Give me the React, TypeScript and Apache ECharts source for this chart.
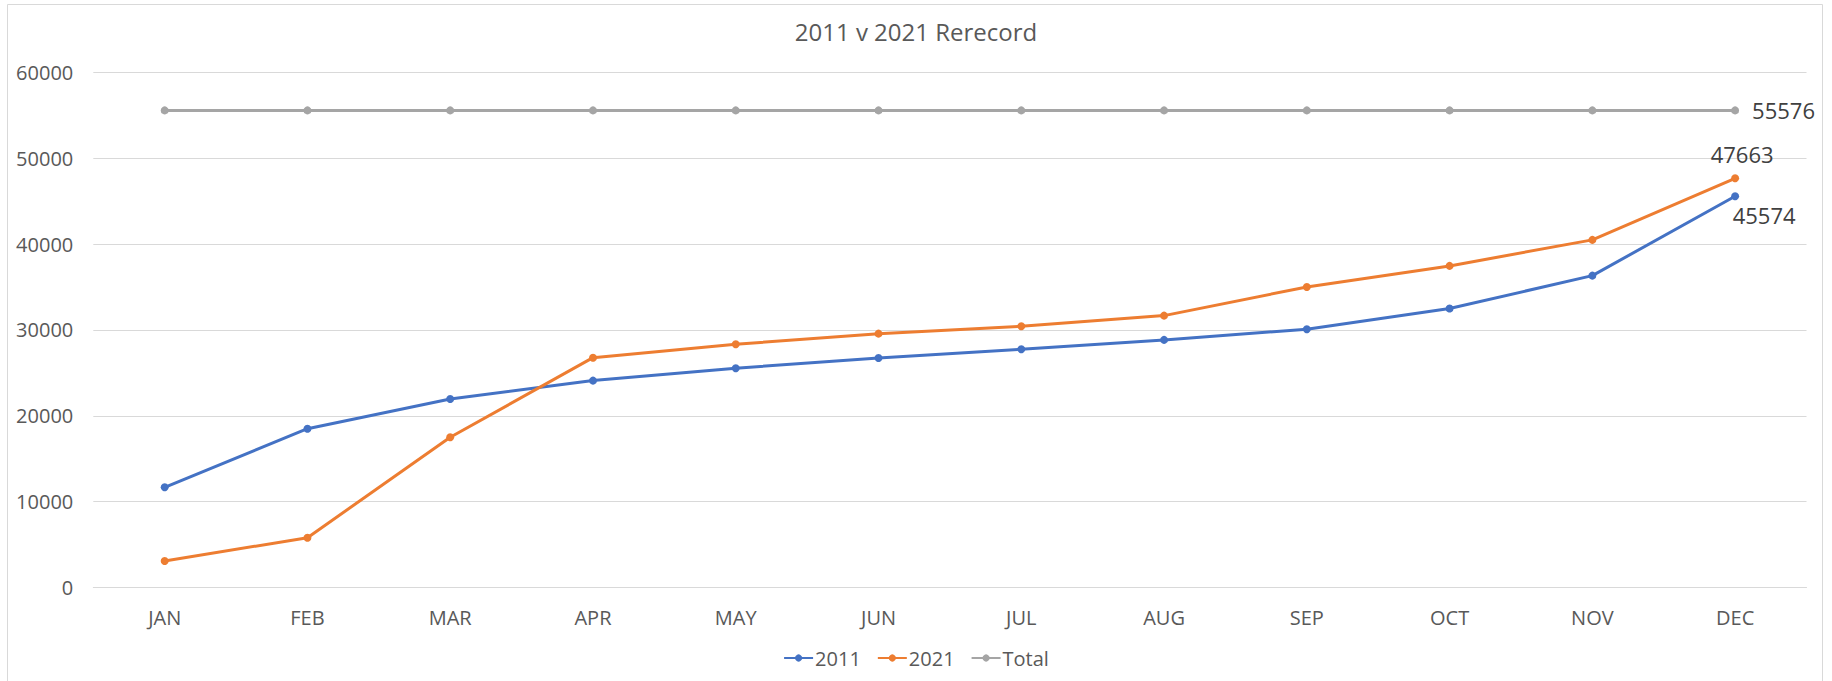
import React, { useEffect, useRef } from "react";
import * as echarts from "echarts";

const categories = ["JAN", "FEB", "MAR", "APR", "MAY", "JUN", "JUL", "AUG", "SEP", "OCT", "NOV", "DEC"];
const values2011 = [11670, 18500, 21960, 24100, 25540, 26740, 27750, 28840, 30080, 32490, 36330, 45574];
const values2021 = [3090, 5800, 17500, 26770, 28330, 29570, 30430, 31670, 35010, 37460, 40490, 47663];
const valuesTotal = [55576, 55576, 55576, 55576, 55576, 55576, 55576, 55576, 55576, 55576, 55576, 55576];
const yTicks = { min: 0, max: 60000, interval: 10000 };

const FONT = "'Open Sans', 'Noto Sans', sans-serif";
const TEXT = "#595959";

function withEndLabel(values: number[], label: any) {
  return values.map((v, i) => (i === values.length - 1 ? { value: v, label } : v));
}

export default function App() {
  const ref = useRef<HTMLDivElement>(null);
  useEffect(() => {
    document.body.style.margin = "0";
    const chart = echarts.init(ref.current!, null, { renderer: "svg" });
    const lineSeries = (name: string, color: string, data: any[]) => ({
      name,
      type: "line",
      data,
      symbol: "circle",
      symbolSize: 8,
      lineStyle: { width: 3, color },
      itemStyle: { color },
      label: { show: false },
      z: 3,
    });
    const labelStyle = { show: true, fontFamily: FONT, fontSize: 22, color: "#404040" };
    chart.setOption({
      animation: false,
      backgroundColor: "#ffffff",
      textStyle: { fontFamily: FONT },
      title: {
        text: "2011 v 2021 Rerecord",
        left: "center",
        top: 19,
        padding: 0,
        textStyle: { fontFamily: FONT, fontSize: 24, fontWeight: "normal", color: TEXT },
      },
      graphic: [
        {
          type: "rect",
          shape: { x: 7.5, y: 4.5, width: 1815, height: 700 },
          style: { fill: "none", stroke: "#D9D9D9", lineWidth: 1 },
          silent: true,
          z: -1,
        },
      ],
      legend: {
        data: ["2011", "2021", "Total"],
        left: "center",
        top: 643,
        itemWidth: 29,
        itemHeight: 9,
        itemGap: 16,
        textStyle: { fontFamily: FONT, fontSize: 20, color: TEXT, padding: [0, 0, 0, -3] },
      },
      grid: { left: 93.3, right: 25.5, top: 72.4, bottom: 93.5 },
      xAxis: {
        type: "category",
        data: categories,
        boundaryGap: true,
        axisLine: { show: true, lineStyle: { color: "#D9D9D9", width: 1 } },
        axisTick: { show: false },
        axisLabel: { fontFamily: FONT, fontSize: 20, color: TEXT, margin: 20 },
      },
      yAxis: {
        type: "value",
        min: yTicks.min,
        max: yTicks.max,
        interval: yTicks.interval,
        axisLine: { show: false },
        axisTick: { show: false },
        axisLabel: {
          fontFamily: FONT,
          fontSize: 20,
          color: TEXT,
          margin: 20,
          formatter: (v: number) => String(v),
        },
        splitLine: { lineStyle: { color: "#D9D9D9", width: 1 } },
      },
      series: [
        lineSeries(
          "2011",
          "#4472C4",
          withEndLabel(values2011, { ...labelStyle, position: "bottom", distance: 4, offset: [29, 0] })
        ),
        lineSeries(
          "2021",
          "#ED7D31",
          withEndLabel(values2021, { ...labelStyle, position: "top", distance: 9, offset: [7, 0] })
        ),
        lineSeries(
          "Total",
          "#A5A5A5",
          withEndLabel(valuesTotal, { ...labelStyle, position: "right", distance: 13 })
        ),
      ],
    });
    return () => chart.dispose();
  }, []);
  return <div ref={ref} style={{ width: 1832, height: 681 }} />;
}
